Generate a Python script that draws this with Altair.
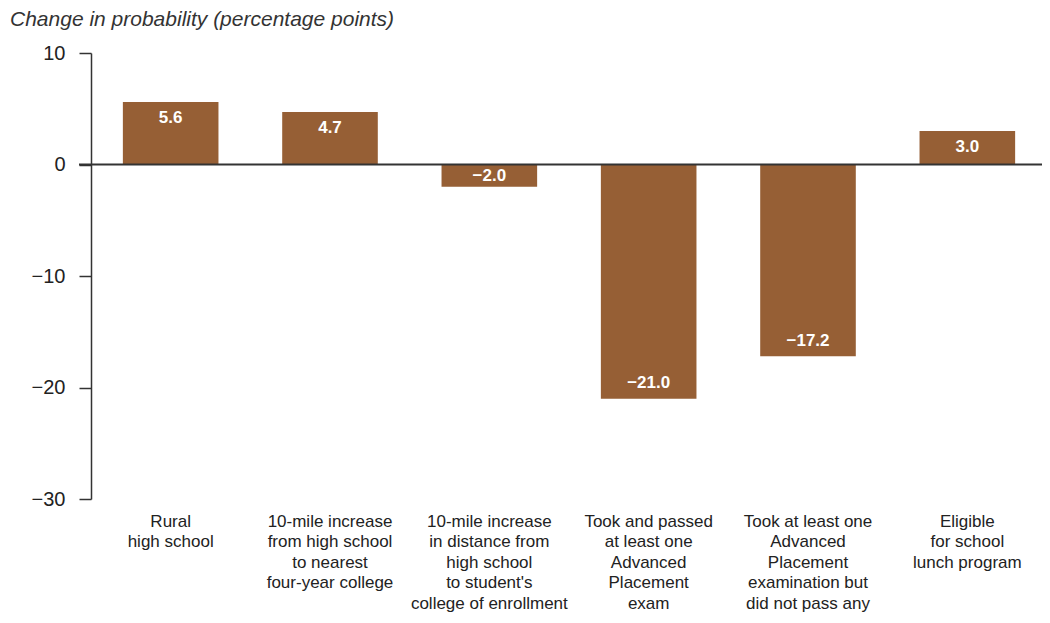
import altair as alt
import pandas as pd

categories = [
    "Rural\nhigh school",
    "10-mile increase\nfrom high school\nto nearest\nfour-year college",
    "10-mile increase\nin distance from\nhigh school\nto student's\ncollege of enrollment",
    "Took and passed\nat least one\nAdvanced\nPlacement\nexam",
    "Took at least one\nAdvanced\nPlacement\nexamination but\ndid not pass any",
    "Eligible\nfor school\nlunch program",
]
values = [5.6, 4.7, -2.0, -21.0, -17.2, 3.0]
y_ticks = [-30, -20, -10, 0, 10]
title_text = "Change in probability (percentage points)"

df = pd.DataFrame({"cat": categories, "val": values})

W, H = 951, 446
RANGE_W = 956
BAR = "#965f35"
FONT = "Liberation Sans"

x_enc = alt.X(
    "cat:N", sort=categories, title=None,
    scale=alt.Scale(paddingInner=0.4, paddingOuter=0.2, range=[0, RANGE_W]),
    axis=alt.Axis(
        labelAngle=0, domain=False, ticks=False, labelPadding=14,
        labelExpr="split(datum.label, '\\n')", labelFontSize=17,
        labelFont=FONT, labelColor="#222", labelLineHeight=20.5,
        labelBaseline="top",
    ),
)
y_scale = alt.Scale(domain=[-30, 10], nice=False)

bars = alt.Chart(df).mark_bar(color=BAR).encode(
    x=x_enc,
    y=alt.Y(
        "val:Q", scale=y_scale, title=None,
        axis=alt.Axis(
            values=y_ticks, grid=False, tickSize=12, tickColor="#333",
            domainColor="#333", domainWidth=1.5, tickWidth=1.5,
            labelFontSize=20, labelFont=FONT, labelColor="#222",
            labelPadding=14,
        ),
    ),
    y2=alt.datum(0),
)

labels = alt.Chart(df).transform_calculate(
    ly="abs(datum.val) < 3 ? datum.val / 2 : datum.val - (datum.val > 0 ? 1.4 : -1.4)"
).mark_text(
    color="white", fontWeight="bold", fontSize=17, font=FONT, baseline="middle"
).encode(
    x=alt.X("cat:N", sort=categories),
    y=alt.Y("ly:Q", scale=y_scale),
    text=alt.Text("val:Q", format=".1f"),
)

zero = alt.Chart(pd.DataFrame({"z": [0]})).mark_rule(
    color="#333", strokeWidth=2
).encode(
    y=alt.Y("z:Q", scale=y_scale),
    x=alt.value(-12),
    x2=alt.value(RANGE_W),
)

title = alt.Chart(pd.DataFrame({"t": [title_text]})).mark_text(
    align="left", baseline="middle", fontStyle="italic", fontSize=21,
    font=FONT, color="#333",
).encode(
    text="t:N",
    x=alt.value(-81),
    y=alt.value(-33),
)

chart = alt.layer(bars, labels, zero, title).properties(
    width=W, height=H,
    autosize=alt.AutoSizeParams(type="none"),
    padding={"left": 83, "top": 45, "right": 0, "bottom": 113},
).configure_view(stroke=None)

chart.save("out.html", embed_options={"renderer": "svg", "actions": False})
